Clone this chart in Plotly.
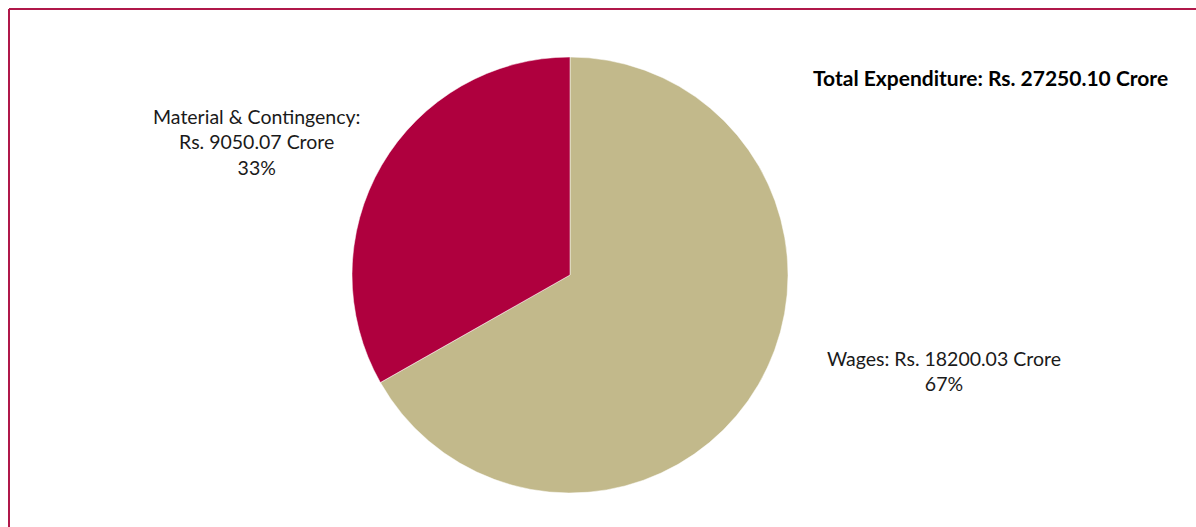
import plotly.graph_objects as go

categories = ["Wages", "Material & Contingency"]
values = [18200.03, 9050.07]
colors = ["#C2B98B", "#AF003E"]
total = 27250.10

W, H = 1196, 527

fig = go.Figure(go.Pie(
    labels=categories,
    values=values,
    sort=False,
    direction="clockwise",
    rotation=0,
    textinfo="none",
    hoverinfo="label+value+percent",
    marker=dict(colors=colors, line=dict(color="white", width=0.5)),
    domain=dict(x=[352 / W, 788 / W], y=[(H - 493) / H, (H - 57) / H]),
    showlegend=False,
))

def px(x):
    return x / W

def py(y):
    return 1 - y / H

pct = [round(v / sum(values) * 100) for v in values]
FAM = "Lato"
font = dict(family=FAM, size=19.5, color="#1a1a1a")

fig.add_annotation(x=px(256), y=py(142), xref="paper", yref="paper",
                   xanchor="center", yanchor="middle",
                   text=f"{categories[1]}:<br>Rs. {values[1]:.2f} Crore<br>{pct[1]}%",
                   showarrow=False, align="center", font=font)
fig.add_annotation(x=px(944), y=py(371), xref="paper", yref="paper",
                   xanchor="center", yanchor="middle",
                   text=f"{categories[0]}: Rs. {values[0]:.2f} Crore<br>{pct[0]}%",
                   showarrow=False, align="center", font=font)
fig.add_annotation(x=px(1170), y=py(77), xref="paper", yref="paper",
                   xanchor="right", yanchor="middle",
                   text=f"<b>Total Expenditure: Rs. {total:.2f} Crore</b>",
                   showarrow=False, font=dict(family=FAM, size=21, color="#000000"))

border = "#B0184A"
fig.add_shape(type="line", xref="paper", yref="paper", x0=px(9), x1=1.05, y0=py(9), y1=py(9),
              line=dict(color=border, width=2))
fig.add_shape(type="line", xref="paper", yref="paper", x0=px(9), x1=px(9), y0=py(9), y1=-0.05,
              line=dict(color=border, width=2))

fig.update_layout(width=W, height=H, margin=dict(l=0, r=0, t=0, b=0),
                  paper_bgcolor="white", plot_bgcolor="white")

fig.write_html("out.html")
